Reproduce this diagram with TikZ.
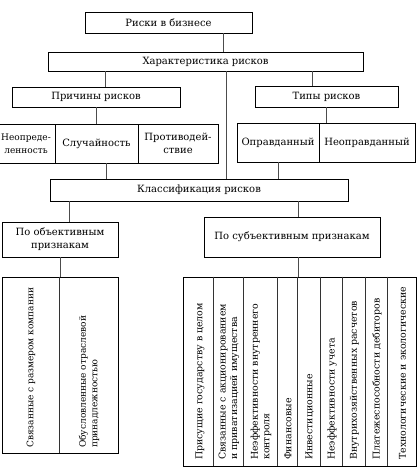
\documentclass[tikz,border=0pt]{standalone}
\usepackage{fontspec}
\setmainfont{DejaVu Serif}
\begin{document}
\begin{tikzpicture}[x=1pt,y=-1pt,
  box/.style={draw, line width=0.9pt, inner sep=0pt, align=center, font=\fontsize{10}{13}\selectfont},
  conn/.style={line width=0.5pt, black!70},
  cellline/.style={line width=0.5pt, black!80},
  vtext/.style={rotate=90, anchor=west, inner sep=0pt, align=left, font=\fontsize{9.4}{11.5}\selectfont},
  vsmall/.style={vtext, font=\fontsize{9}{11.5}\selectfont}]
\useasboundingbox (0,0) rectangle (419,468);
\clip (0,0) rectangle (419,468);
% top levels
\node[box, minimum width=167, minimum height=21] (risk) at (168.5,22.5) {Риски в бизнесе};
\node[box, minimum width=315, minimum height=19] (char) at (205.5,61.5) {Характеристика рисков};
\node[box, minimum width=168, minimum height=20] (cause) at (96,97) {Причины рисков};
\node[box, minimum width=143, minimum height=21] (types) at (326.5,96.5) {Типы рисков};
% causes row
\node[box, minimum width=58, minimum height=39, font=\fontsize{9}{13}\selectfont] (unc) at (26,143.5) {Неопреде-\\ленность};
\node[box, minimum width=83, minimum height=39] (rand) at (96.5,143.5) {Случайность};
\node[box, minimum width=80, minimum height=39] (opp) at (178,143.5) {Противодей-\\ствие};
% types row
\node[box, minimum width=82, minimum height=39] (just) at (278,142.5) {Оправданный};
\node[box, minimum width=96, minimum height=39] (unjust) at (367,142.5) {Неоправданный};
% classification
\node[box, minimum width=298, minimum height=22] (class) at (199,190) {Классификация рисков};
\node[box, minimum width=116, minimum height=35] (obj) at (60,239.5) {По объективным\\признакам};
\node[box, minimum width=176, minimum height=40] (subj) at (292,237) {По субъективным признакам};
% big boxes
\node[box, minimum width=116, minimum height=176] (objbig) at (60,365) {};
\node[box, minimum width=233, minimum height=189] (subjbig) at (299.5,371.5) {};
% connector x positions
\coordinate (c1) at (223,0);
\coordinate (c2) at (105,0);
\coordinate (c3) at (312,0);
\coordinate (c4) at (226,0);
\coordinate (c5) at (96,0);
\coordinate (c6) at (326,0);
\coordinate (c7) at (106,0);
\coordinate (c8) at (278,0);
\coordinate (c9) at (69,0);
\coordinate (c10) at (298,0);
\coordinate (c11) at (60,0);
\draw[conn] (c1 |- risk.south) -- (c1 |- char.north);
\draw[conn] (c2 |- char.south) -- (c2 |- cause.north);
\draw[conn] (c3 |- char.south) -- (c3 |- types.north);
\draw[conn] (c4 |- char.south) -- (c4 |- class.north);
\draw[conn] (c5 |- cause.south) -- (c5 |- rand.north);
\draw[conn] (c6 |- types.south) -- (c6 |- unjust.north);
\draw[conn] (c7 |- rand.south) -- (c7 |- class.north);
\draw[conn] (c8 |- just.south) -- (c8 |- class.north);
\draw[conn] (c9 |- class.south) -- (c9 |- obj.north);
\draw[conn] (c10 |- class.south) -- (c10 |- subj.north);
\draw[conn] (c11 |- obj.south) -- (c11 |- objbig.north);
\draw[conn] (c10 |- subj.south) -- (c10 |- subjbig.north);
% dividers
\coordinate (d0) at (59,0);
\draw[cellline] (d0 |- objbig.north) -- (d0 |- objbig.south);
\foreach \x/\n in {213/a,243/b,277/c,297/d,320/e,342/f,365/g,387/h}{
  \coordinate (dv\n) at (\x,0);
  \draw[cellline] (dv\n |- subjbig.north) -- (dv\n |- subjbig.south);
}
% left texts
\node[vsmall] (o1) at (31,448) {Связанные с размером компании};
\node[vsmall] (o2) at (89,448) {Обусловленные отраслевой\\принадлежностью};
% right texts
\node[vtext] (s1) at (200,460) {Присущие государству в целом};
\node[vtext] (s2) at (229,460) {Связанные с акционированием\\и приватизацией имущества};
\node[vtext] (s3) at (261,460) {Неэффективности внутреннего\\контроля};
\node[vtext] (s4) at (288,460) {Финансовые};
\node[vtext] (s5) at (309.5,460) {Инвестиционные};
\node[vtext] (s6) at (332,460) {Неэффективности учета};
\node[vtext] (s7) at (354.5,460) {Внутрихозяйственных расчетов};
\node[vtext] (s8) at (377,460) {Платежеспособности дебиторов};
\node[vtext] (s9) at (402.5,460) {Технологические и экологические};
\end{tikzpicture}
\end{document}
